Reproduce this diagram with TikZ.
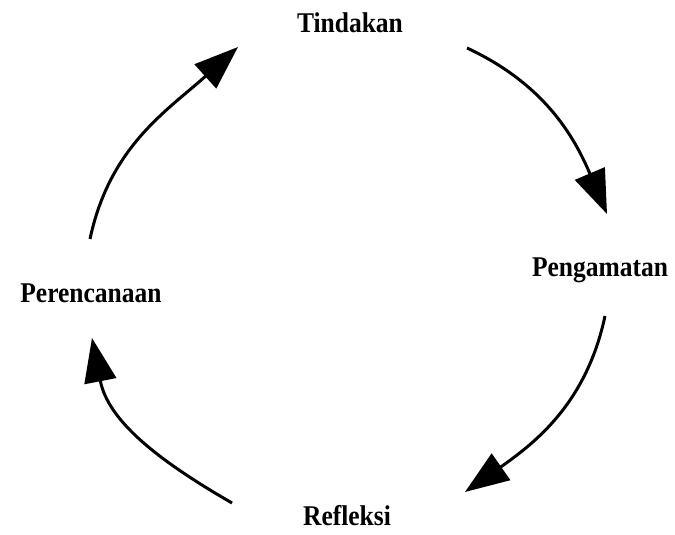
\documentclass[tikz,border=0pt]{standalone}
\usepackage{fontspec}
\setmainfont{Liberation Serif}
\usetikzlibrary{arrows.meta}

\newcommand{\tallword}[1]{\scalebox{1}[1.12]{#1}}

\begin{document}
\begin{tikzpicture}[x=1pt, y=1pt,
    lbl/.style={anchor=base, inner sep=0pt, font=\bfseries\fontsize{25.5}{30}\selectfont},
    cyc/.style={line width=3pt, -{Triangle[length=44pt, width=32pt]}}]
    \useasboundingbox (0,0) rectangle (675,535);
    % the four stages
    \node[lbl] (tindakan)    at (350,502) {\tallword{Tindakan}};
    \node[lbl] (pengamatan)  at (600,258) {\tallword{Pengamatan}};
    \node[lbl] (refleksi)    at (347,9)   {\tallword{Refleksi}};
    \node[lbl] (perencanaan) at (91,232)  {\tallword{Perencanaan}};
    % arrow ends
    \coordinate (p-out) at (90,296);
    \coordinate (t-in)  at (238,488);
    \coordinate (t-out) at (467,487);
    \coordinate (g-in)  at (607,321);
    \coordinate (g-out) at (605,219);
    \coordinate (r-in)  at (465,43);
    \coordinate (r-out) at (232,32);
    \coordinate (p-in)  at (92,197);
    % the cycle
    \draw[cyc] (p-out) to[out=78,  in=222] (t-in);
    \draw[cyc] (t-out) to[out=-25, in=113] (g-in);
    \draw[cyc] (g-out) to[out=258, in=35]  (r-in);
    \draw[cyc] (r-out) to[out=150, in=281] (p-in);
\end{tikzpicture}
\end{document}
